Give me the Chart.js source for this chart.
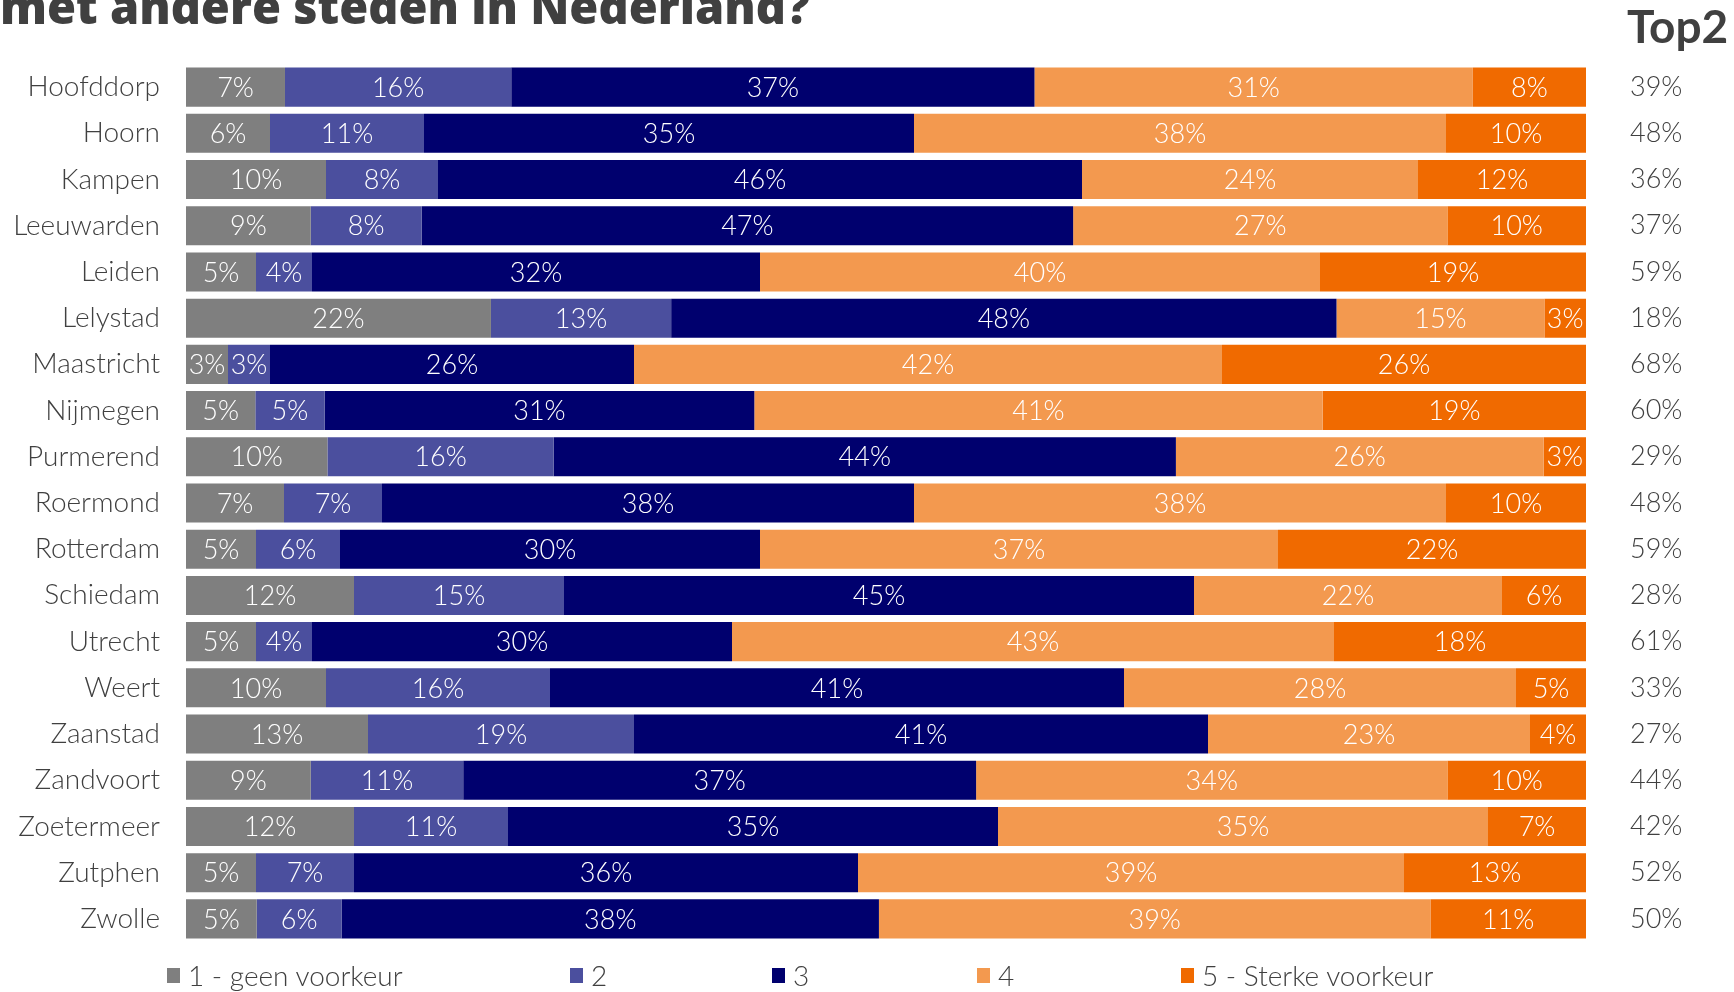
<!DOCTYPE html>
<html>
<head>
<meta charset="utf-8">
<script src="https://cdn.jsdelivr.net/npm/chart.js@4.4.1/dist/chart.umd.min.js"></script>
<style>
  html, body { margin: 0; padding: 0; background: #ffffff; overflow: hidden; }
  #wrap { position: relative; width: 1734px; height: 992px; overflow: hidden; }
  #c { position: absolute; left: 0; top: 0; }
  #title { position: absolute; left: 0; top: -17px; font: 800 47px "Open Sans", sans-serif; line-height: 47px; color: #404040; white-space: nowrap; }
  #top2 { position: absolute; left: 1627px; top: 3px; font: 700 46px Lato, sans-serif; line-height: 46px; color: #404040; white-space: nowrap; }
  #legend { position: absolute; left: 167px; top: 961px; display: flex; font: 300 28px Lato, sans-serif; line-height: 28px; color: #404040; white-space: nowrap; }
  #legend .item { display: flex; align-items: center; }
  #legend .sw { width: 13px; height: 15px; margin-right: 8px; }
</style>
</head>
<body>
<div id="wrap">
  <canvas id="c" width="1734" height="992"></canvas>
  <div id="title">met andere steden in Nederland?</div>
  <div id="top2">Top2</div>
  <div id="legend"></div>
</div>
<script>
const categories = ['Hoofddorp','Hoorn','Kampen','Leeuwarden','Leiden','Lelystad','Maastricht','Nijmegen','Purmerend','Roermond','Rotterdam','Schiedam','Utrecht','Weert','Zaanstad','Zandvoort','Zoetermeer','Zutphen','Zwolle'];
const seriesNames = ['1 - geen voorkeur','2','3','4','5 - Sterke voorkeur'];
const score1 = [7,6,10,9,5,22,3,5,10,7,5,12,5,10,13,9,12,5,5];
const score2 = [16,11,8,8,4,13,3,5,16,7,6,15,4,16,19,11,11,7,6];
const score3 = [37,35,46,47,32,48,26,31,44,38,30,45,30,41,41,37,35,36,38];
const score4 = [31,38,24,27,40,15,42,41,26,38,37,22,43,28,23,34,35,39,39];
const score5 = [8,10,12,10,19,3,26,19,3,10,22,6,18,5,4,10,7,13,11];
const top2Labels = ['39%','48%','36%','37%','59%','18%','68%','60%','29%','48%','59%','28%','61%','33%','27%','44%','42%','52%','50%'];
const seriesColors = ['#7f7f7f','#4b4f9e','#00006e','#f3994f','#f06a00'];

const allSeries = [score1, score2, score3, score4, score5];
const rowTotals = categories.map((_, i) => allSeries.reduce((s, arr) => s + arr[i], 0));

const datasets = allSeries.map((arr, k) => ({
  label: seriesNames[k],
  rawValues: arr,
  data: arr.map((v, i) => v / rowTotals[i] * 100),
  backgroundColor: seriesColors[k],
  borderWidth: 0,
  categoryPercentage: 1,
  barPercentage: 0.845,
  yAxisID: 'y'
}));

const segLabels = {
  id: 'segLabels',
  afterDatasetsDraw(chart) {
    const ctx = chart.ctx;
    ctx.save();
    ctx.font = '300 27px Lato';
    ctx.fillStyle = '#ffffff';
    ctx.textAlign = 'center';
    ctx.textBaseline = 'middle';
    chart.data.datasets.forEach((ds, di) => {
      const meta = chart.getDatasetMeta(di);
      meta.data.forEach((bar, i) => {
        const p = bar.getProps(['x', 'y', 'base'], true);
        ctx.fillText(ds.rawValues[i] + '%', (p.x + p.base) / 2, p.y + 1);
      });
    });
    ctx.restore();
  }
};

const chart = new Chart(document.getElementById('c'), {
  type: 'bar',
  data: { labels: categories, datasets },
  options: {
    indexAxis: 'y',
    responsive: false,
    animation: false,
    layout: { padding: { top: 64, bottom: 50, left: 0, right: 0 } },
    plugins: { legend: { display: false }, tooltip: { enabled: false }, title: { display: false } },
    scales: {
      x: { stacked: true, min: 0, max: 100, display: false },
      y: {
        stacked: true,
        position: 'left',
        grid: { display: true, drawOnChartArea: false, drawTicks: true, tickLength: 26, color: 'rgba(0,0,0,0)' },
        border: { display: false },
        ticks: { color: '#404040', font: { family: 'Lato', size: 28, weight: '300' }, padding: 0 },
        afterFit(s) { s.width = 186; }
      },
      y2: {
        type: 'category',
        labels: top2Labels,
        position: 'right',
        offset: true,
        grid: { display: true, drawOnChartArea: false, drawTicks: true, tickLength: 44, color: 'rgba(0,0,0,0)' },
        border: { display: false },
        ticks: { color: '#404040', font: { family: 'Lato', size: 27, weight: '300' }, padding: 0 },
        afterFit(s) { s.width = 148; }
      }
    }
  },
  plugins: [segLabels]
});

// HTML legend built from datasets
const legend = document.getElementById('legend');
const itemWidths = [403, 202, 205, 204, 320];
chart.data.datasets.forEach((ds, k) => {
  const item = document.createElement('div');
  item.className = 'item';
  item.style.width = itemWidths[k] + 'px';
  const sw = document.createElement('span');
  sw.className = 'sw';
  sw.style.background = ds.backgroundColor;
  const tx = document.createElement('span');
  tx.textContent = ds.label;
  item.appendChild(sw);
  item.appendChild(tx);
  legend.appendChild(item);
});
</script>
</body>
</html>
